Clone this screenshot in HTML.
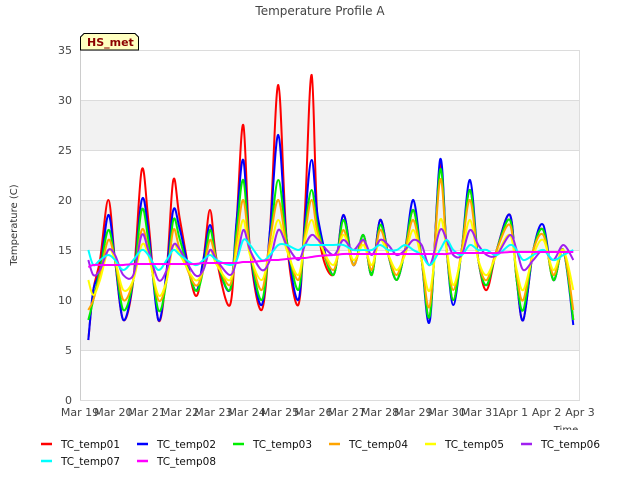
<!DOCTYPE html>
<html><head><meta charset="utf-8"><style>
body{margin:0;background:#fff;}
svg{display:block;font-family:"DejaVu Sans","Liberation Sans",sans-serif;}
</style></head><body>
<svg id="chart" width="640" height="480" xmlns="http://www.w3.org/2000/svg">
<text x="320" y="15" text-anchor="middle" font-size="12" fill="#444">Temperature Profile A</text>
<g id="bands"></g><g id="grid"></g><g id="yticks"></g><g id="xticks"></g><g id="series"></g>
<text transform="translate(17,225) rotate(-90)" text-anchor="middle" font-size="10" fill="#333">Temperature (C)</text>
<text x="566" y="433" text-anchor="middle" font-size="10" fill="#333">Time</text>
<rect x="540" y="430" width="100" height="10" fill="#fff"/>
<g>
<path d="M80.5,50 L80.5,37 L84,33.5 L135,33.5 L138.5,37 L138.5,50 Z" fill="#ffffc0" stroke="#000" stroke-width="1"/>
<text x="87" y="46" font-size="11" font-weight="bold" fill="#8b0000">HS_met</text>
</g>
<g id="legend"></g>
</svg>
<script>
const times=[0.25,0.4,0.6,0.85,1.05,1.3,1.6,1.85,2.05,2.35,2.6,2.8,3.0,3.45,3.7,3.9,4.1,4.5,4.7,4.9,5.1,5.45,5.7,5.95,6.2,6.55,6.75,6.95,7.15,7.6,7.9,8.2,8.5,8.75,9.0,9.25,9.5,9.75,10.0,10.25,10.5,10.8,11.0,11.2,11.45,11.7,11.95,12.2,12.5,12.9,13.1,13.3,13.6,13.9,14.2,14.5,14.8];
const tc01=[6,11,14,20,14,8,12,23,18,8,13,22,18,10.5,14,19,14,9.5,18,27.5,15,9,17,31.5,16,9.5,19,32.5,17,12.5,18.5,13.5,16.5,12.5,18,14.5,12,15,19,14,8.5,23.5,15,10,15,21,14,11,15,18.5,12,8,15,17,12,15,8];
const tc02=[6,11,13,18.5,14,8,12,20,17,8,13,19,17,11,14,17.5,14,11,18,24,15,9.5,17,26.5,16,10,18,24,18,12.5,18.5,13.5,16.5,12.5,18,14.5,12,15,20,14,8,24,15,9.5,15,22,14,11.5,15,18.5,12,8,15,17.5,12,15,7.5];
const tc03=[8,10,13,17,14,9,12,19,16,9,12,18,16,11,13,17,14,11,17,22,15,10,16,22,16,11,17,21,17,12.5,18,13.5,16.5,12.5,17.5,14.5,12,15,19,14,8.5,23,15,10,15,21,14,11.5,15,18,12,9,15,17,12,15,8];
const tc04=[9,10,12.5,16,14,10,12,17,15,10,12,17,15,11.5,13,16,14,11.5,16,20,15,11,16,20,15.5,12,16.5,20,16.5,13,17,13.5,16,13,17,14.5,12.5,15,18,14,9.5,22,15,11,15,20,14,12,15,17.5,12.5,10,15,16.5,12.5,15,9];
const tc05=[12,10.5,12,15,14,11,12,15.5,14.5,10.5,12,15.5,14.5,12,13,15,13.5,12,15,18,14.5,12,15,18,15,12.5,16,18,16,13.5,16.5,14,15.5,13.5,16,14.5,13,14.5,17,14,11,18,15,11.5,14.5,18,14,12.5,14.5,16.5,13,11,14.5,16,13,15,11];
const tc06=[14,12.5,13,15,14.5,12.5,12.5,16.5,15,12,13,15.5,15,12.5,13,15,14,12.5,14,17,15,13,14,17,15.5,14,15.5,16.5,16,14.5,16,15,16,14.5,16,15.5,14.5,15,16,15.5,13.5,17,16,14.5,14.5,17,15.5,14.5,14.5,16.5,15,13,14,15,14,15.5,14];
const tc07=[15,13.5,14,14.5,14,13,14,15,14.5,13,14,15,14.5,13.5,14,14.5,14,13.5,14,16,15.5,14,14.5,15.5,15.5,15,15.5,15.5,15.5,15.5,15.5,15,15,15,15.5,15,15,15.5,15,14.5,13.5,15,16,15,14.5,15.5,15,15,14.5,15.5,15,14,14.5,15,14,14.5,15];
const tc08=[13.3,13.5,13.5,13.5,13.5,13.5,13.6,13.6,13.6,13.6,13.6,13.6,13.6,13.6,13.7,13.7,13.7,13.7,13.7,13.8,13.8,13.9,14,14,14.1,14.2,14.2,14.3,14.4,14.5,14.6,14.6,14.6,14.6,14.6,14.6,14.6,14.6,14.6,14.6,14.6,14.6,14.6,14.7,14.7,14.7,14.7,14.7,14.7,14.8,14.8,14.8,14.8,14.8,14.8,14.8,14.8];
const seriesNames=["TC_temp01","TC_temp02","TC_temp03","TC_temp04","TC_temp05","TC_temp06","TC_temp07","TC_temp08"];
const xLabels=["Mar 19","Mar 20","Mar 21","Mar 22","Mar 23","Mar 24","Mar 25","Mar 26","Mar 27","Mar 28","Mar 29","Mar 30","Mar 31","Apr 1","Apr 2","Apr 3"];
const yTicks=[0,5,10,15,20,25,30,35];

const NS="http://www.w3.org/2000/svg";
const X0=80,X1=580,Y0=400,Y1=50;
const xs=d=>X0+d*(X1-X0)/15;
const ys=v=>Y0-v*(Y0-Y1)/35;
function mk(tag,attrs,parent){const e=document.createElementNS(NS,tag);for(const k in attrs)e.setAttribute(k,attrs[k]);parent.appendChild(e);return e;}
const bands=document.getElementById('bands'),grid=document.getElementById('grid'),yt=document.getElementById('yticks'),xt=document.getElementById('xticks'),sg=document.getElementById('series'),lg=document.getElementById('legend');
mk('rect',{x:X0,y:Y1,width:X1-X0,height:Y0-Y1,fill:'#fff'},bands);
[[5,10],[15,20],[25,30]].forEach(b=>{const r=mk('rect',{x:X0,y:ys(b[1]),width:X1-X0,height:ys(b[0])-ys(b[1]),fill:'#f2f2f2'},bands);

});
yTicks.forEach(v=>{
 const l=mk('line',{x1:X0,x2:X1,y1:ys(v)+0.5,y2:ys(v)+0.5,stroke:'#dcdcdc','stroke-width':1},grid);
 
 
 const t=mk('text',{x:X0-8,y:ys(v)+4,'text-anchor':'end','font-size':11,fill:'#444'},yt);t.textContent=v;
 
 
});
mk('line',{x1:X0+0.5,x2:X0+0.5,y1:Y1,y2:Y0,stroke:'#ccc'},grid);
mk('line',{x1:X1-0.5,x2:X1-0.5,y1:Y1,y2:Y0,stroke:'#ddd'},grid);
xLabels.forEach((s,i)=>{const t=mk('text',{x:xs(i),y:416,'text-anchor':'middle','font-size':11,fill:'#444'},xt);t.textContent=s;
 
 });
const data=[tc01,tc02,tc03,tc04,tc05,tc06,tc07,tc08];
const colors=["#ff0000","#0000ff","#00ee00","#ffa500","#ffff00","#a020f0","#00ffff","#ff00ff"];
data.forEach((arr,i)=>{
 const n=Math.min(arr.length,times.length);
 const pts=[];for(let k=0;k<n;k++)pts.push([xs(times[k]),ys(arr[k])]);
 let d='M'+pts[0][0].toFixed(1)+','+pts[0][1].toFixed(1);
 for(let k=0;k<n-1;k++){
  const p0=pts[Math.max(k-1,0)],p1=pts[k],p2=pts[k+1],p3=pts[Math.min(k+2,n-1)];
  const c1x=p1[0]+(p2[0]-p0[0])/6,c1y=p1[1]+(p2[1]-p0[1])/6,c2x=p2[0]-(p3[0]-p1[0])/6,c2y=p2[1]-(p3[1]-p1[1])/6;
  d+='C'+c1x.toFixed(1)+','+c1y.toFixed(1)+' '+c2x.toFixed(1)+','+c2y.toFixed(1)+' '+p2[0].toFixed(1)+','+p2[1].toFixed(1);
 }
 const p=mk('path',{d:d,fill:'none',stroke:colors[i],'stroke-width':2,'stroke-linejoin':'round'},sg);
 
 
});
seriesNames.forEach((s,i)=>{
 const row=i<6?0:1,col=i<6?i:i-6;
 const lx=41+col*96,ly=row?461:444;
 const g=mk('g',{},lg);
 
 
 mk('line',{x1:lx,x2:lx+11,y1:ly,y2:ly,stroke:colors[i],'stroke-width':2.5},g);
 const t=mk('text',{x:lx+20,y:ly+4,'font-size':10.5,fill:'#111',textLength:59,lengthAdjust:'spacingAndGlyphs'},g);t.textContent=s;
});
</script>
</body></html>
